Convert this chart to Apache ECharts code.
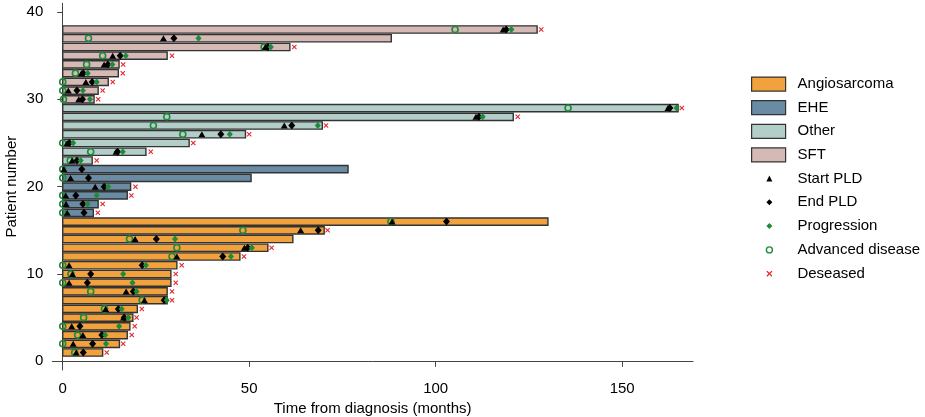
<!DOCTYPE html>
<html>
<head>
<meta charset="utf-8">
<script src="https://cdn.jsdelivr.net/npm/echarts@6/dist/echarts.min.js"></script>
<style>
  html, body { margin: 0; padding: 0; background: #fff; }
  #chart { width: 925px; height: 417px; }
</style>
</head>
<body>
<div id="chart"></div>
<script>
// patients 1..38, bottom to top
const patients = Array.from({ length: 38 }, (_, i) => i + 1);
const groups = ["Angiosarcoma", "EHE", "Other", "SFT"];
const groupOfPatient = [
  0, 0, 0, 0, 0, 0, 0, 0, 0, 0, 0, 0, 0, 0, 0, 0,
  1, 1, 1, 1, 1, 1,
  2, 2, 2, 2, 2, 2, 2,
  3, 3, 3, 3, 3, 3, 3, 3, 3,
];
// follow-up (bar length, months)
const followUp = [
  10.7, 15.2, 17.3, 18.0, 18.8, 20.0, 28.0, 28.0, 29.0, 29.0, 30.6, 47.5, 55.0, 61.7, 70.1, 130.1,
  8.2, 9.5, 17.3, 18.2, 50.5, 76.5,
  7.9, 22.3, 33.9, 49.0, 69.6, 120.8, 165.0,
  8.4, 9.5, 12.2, 14.9, 15.1, 28.0, 60.9, 88.1, 127.2,
];
const startPLD = [
  3.6, 2.8, 5.4, 2.4, 16.3, 11.5, 21.9, 17.0, 1.7, 2.6, 1.7, 30.6, 48.7, 19.4, 63.8, 88.3,
  1.2, 0.9, 0.8, 8.7, 2.1, 0.3,
  2.5, 14.3, 1.2, 37.3, 59.4, 110.8, 162.3,
  4.3, 1.5, 6.2, 5.0, 11.1, 13.4, 54.3, 27.0, 118.1,
];
const endPLD = [
  5.5, 8.0, 10.5, 4.6, 16.5, 14.9, 27.2, 18.9, 6.6, 7.5, 21.3, 42.9, 49.6, 25.1, 68.5, 102.9,
  5.7, 5.4, 3.5, 11.1, 6.9, 5.1,
  3.8, 14.7, 1.8, 42.4, 61.4, 111.6, 162.8,
  5.3, 3.8, 7.9, 5.5, 12.1, 15.4, 55.0, 29.8, 118.9,
];
const progression = [
  null, 11.6, 11.4, 15.1, 17.6, 15.8, 27.9, 19.8, 18.7, 16.2, 22.3, 45.1, 50.7, 30.1, null, null,
  null, 6.7, 9.1, 12.2, null, null,
  4.8, 16.1, 2.8, 44.8, 68.4, 112.6, 164.6,
  7.3, 5.4, 9.1, 6.7, 13.3, 16.9, 55.8, 36.4, 120.3,
];
const advanced = [
  3.2, 0, 4.0, 0, 5.6, 11.2, 21.3, 7.5, 0, 2.2, 0, 29.3, 30.6, 17.9, 48.3, 88.0,
  0, 0, 0, null, 0, 0,
  2.0, 7.5, 0, 32.2, 24.3, 27.9, 135.5,
  0.2, 0, 0, 3.4, 6.4, 10.7, 54.0, 6.9, 105.2,
];
const deceased = [
  11.8, 16.2, 18.5, 19.3, 19.8, 21.2, 29.3, 29.3, 30.3, 30.3, 31.9, 48.6, 56.0, null, 71.0, null,
  9.4, 10.7, 18.4, 19.5, null, null,
  9.1, 23.6, 35.0, 50.0, 70.6, 122.0, 166.0,
  9.5, 10.7, 13.4, 16.1, 16.2, 29.3, 62.1, null, 128.3,
];
const xTicks = [0, 50, 100, 150];
const yTicks = [0, 10, 20, 30, 40];

const groupColors = ["#F2A23C", "#6A8BA4", "#B3CEC8", "#D4B9B5"];
const barBorder = "#333";
const green = "#1E8B3B";
const red = "#E3262B";
const axisColor = "#444";
const font = "'Liberation Sans', Arial, sans-serif";
// bold little x
const crossPath = "path://M1.5,0L5,3.5L8.5,0L10,1.5L6.5,5L10,8.5L8.5,10L5,6.5L1.5,10L0,8.5L3.5,5L0,1.5Z";

const toPoints = (arr) =>
  patients.map((p, i) => (arr[i] == null ? null : [arr[i], p])).filter((d) => d);

const barSeries = groups.map((g, gi) => ({
  name: g,
  type: "custom",
  itemStyle: { color: groupColors[gi], borderColor: barBorder, borderWidth: 1.4 },
  data: patients.filter((p, i) => groupOfPatient[i] === gi).map((p) => [followUp[p - 1], p]),
  renderItem: (params, api) => {
    const y = api.value(1);
    const a = api.coord([0, y]);
    const b = api.coord([api.value(0), y]);
    const h = api.size([0, 0.83])[1];
    return {
      type: "rect",
      shape: { x: a[0], y: a[1] - h / 2, width: b[0] - a[0], height: h },
      style: { fill: groupColors[gi], stroke: barBorder, lineWidth: 1.4 },
    };
  },
  z: 1,
}));

const markerSeries = [
  {
    name: "Advanced disease",
    type: "scatter",
    symbol: "circle",
    symbolSize: 6,
    itemStyle: { color: "rgba(0,0,0,0)", borderColor: green, borderWidth: 1.6, opacity: 1 },
    data: toPoints(advanced),
    z: 3,
  },
  {
    name: "Start PLD",
    type: "scatter",
    symbol: "triangle",
    symbolSize: [7, 6],
    itemStyle: { color: "#000", opacity: 1 },
    data: toPoints(startPLD),
    z: 4,
  },
  {
    name: "End PLD",
    type: "scatter",
    symbol: "diamond",
    symbolSize: [7, 8],
    itemStyle: { color: "#000", opacity: 1 },
    data: toPoints(endPLD),
    z: 5,
  },
  {
    name: "Progression",
    type: "scatter",
    symbol: "diamond",
    symbolSize: [6, 7],
    itemStyle: { color: green, opacity: 1 },
    data: toPoints(progression),
    z: 6,
  },
  {
    name: "Deseased",
    type: "scatter",
    symbol: crossPath,
    symbolSize: 5,
    itemStyle: { color: red, opacity: 1 },
    data: toPoints(deceased),
    z: 7,
  },
];

const chart = echarts.init(document.getElementById("chart"), null, { renderer: "canvas" });
chart.setOption({
  animation: false,
  textStyle: { fontFamily: font },
  grid: { left: 52.3, right: 232, top: 3.3, bottom: 47, containLabel: false, outerBoundsMode: "none" },
  xAxis: {
    type: "value",
    min: -2.8,
    max: 169,
    name: "Time from diagnosis (months)",
    nameLocation: "middle",
    nameGap: 31,
    nameMoveOverlap: false,
    nameTextStyle: { fontSize: 15, color: "#000", fontFamily: font },
    splitLine: { show: false },
    axisLine: { show: true, lineStyle: { color: axisColor, width: 1 } },
    axisTick: { show: true, length: 5.5, customValues: xTicks, lineStyle: { color: axisColor } },
    axisLabel: { customValues: xTicks, fontSize: 15, color: "#000", margin: 11, fontFamily: font },
  },
  yAxis: {
    type: "value",
    min: -1,
    max: 41,
    name: "Patient number",
    nameLocation: "middle",
    nameGap: 33,
    nameMoveOverlap: false,
    nameTextStyle: { fontSize: 15, color: "#000", fontFamily: font },
    splitLine: { show: false },
    axisLine: { show: true, lineStyle: { color: axisColor, width: 1 } },
    axisTick: { show: true, length: 5.5, customValues: yTicks, lineStyle: { color: axisColor } },
    axisLabel: { customValues: yTicks, fontSize: 15, color: "#000", margin: 9, fontFamily: font },
  },
  legend: [
    {
      orient: "vertical",
      left: 751,
      top: 76.5,
      padding: 0,
      itemWidth: 34,
      itemHeight: 14,
      itemGap: 8.4,
      selectedMode: false,
      textStyle: { fontSize: 15, color: "#000", fontFamily: font, padding: [0, 0, 0, 7] },
      data: groups.map((g, i) => ({
        name: g,
        icon: "rect",
        itemStyle: { color: groupColors[i], borderColor: barBorder, borderWidth: 1.2 },
      })),
    },
    {
      orient: "vertical",
      left: 765.7,
      top: 171,
      padding: 0,
      itemWidth: 6,
      itemHeight: 6,
      itemGap: 8.8,
      selectedMode: false,
      textStyle: { fontSize: 15, color: "#000", fontFamily: font, padding: [0, 0, 0, 20] },
      data: [
        { name: "Start PLD", icon: "triangle", itemStyle: { color: "#000", borderWidth: 0 } },
        { name: "End PLD", icon: "diamond", itemStyle: { color: "#000", borderWidth: 0 } },
        { name: "Progression", icon: "diamond", itemStyle: { color: green, borderWidth: 0 } },
        { name: "Advanced disease", icon: "circle", itemStyle: { color: "#fff", borderColor: green, borderWidth: 1.4 } },
        { name: "Deseased", icon: crossPath, itemStyle: { color: red, borderWidth: 0 } },
      ],
    },
  ],
  series: [...barSeries, ...markerSeries],
});
</script>
</body>
</html>
